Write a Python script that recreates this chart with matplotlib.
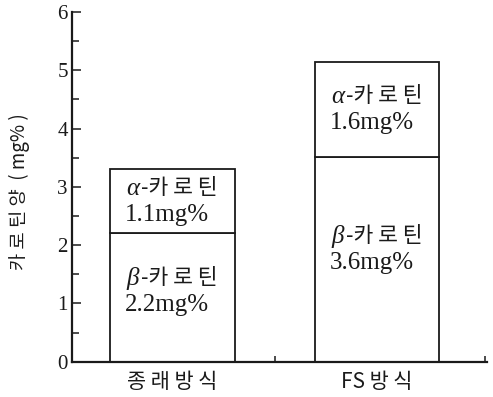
import matplotlib
matplotlib.use("Agg")
import matplotlib.pyplot as plt
from matplotlib.ticker import MultipleLocator, FixedLocator

# ---- data ----
categories = ["종 래 방 식", "FS 방 식"]
beta_values = [2.2, 3.52]      # drawn heights (mg%)
alpha_values = [1.1, 1.62]
beta_labels = ["2.2mg%", "3.6mg%"]
alpha_labels = ["1.1mg%", "1.6mg%"]
yticks = [0, 1, 2, 3, 4, 5, 6]
ylabel = "카 로 틴 양  ( mg% )"

KR = ["Noto Sans CJK KR", "DejaVu Sans"]
SERIF = ["Liberation Serif", "DejaVu Serif"]
INK = "#1a1a1a"

W, H = 493, 397
fig = plt.figure(figsize=(W / 100, H / 100), dpi=100)
ax = fig.add_axes([72 / W, (H - 361.7) / H, (486.5 - 72) / W, (361.7 - 12) / H])

x = [0, 1]
width = 0.61
lw = 1.3
ax.bar(x, beta_values, width=width, facecolor="white", edgecolor=INK, linewidth=lw)
ax.bar(x, alpha_values, width=width, bottom=beta_values, facecolor="white",
       edgecolor=INK, linewidth=lw)

ax.set_ylim(0, 6)
ax.set_xlim(-0.49, 1.535)

def label(xc, yc, greek, value):
    x0 = xc - width / 2 + 0.08
    ax.annotate(greek, xy=(x0, yc), xytext=(0, 9), textcoords="offset points",
                fontsize=18, family=SERIF, style="italic", va="center", ha="left",
                color=INK)
    ax.annotate("-카 로 틴", xy=(x0, yc), xytext=(10.5, 9.5), textcoords="offset points",
                fontsize=15.5, family=KR, va="center", ha="left", color=INK)
    ax.annotate(value, xy=(x0, yc), xytext=(-1, -10), textcoords="offset points",
                fontsize=18, family=SERIF, va="center", ha="left", color=INK)

for i in range(2):
    b = beta_values[i]
    a = alpha_values[i]
    label(x[i], b * 0.55, "β", beta_labels[i])
    label(x[i], b + a * 0.5, "α", alpha_labels[i])

# spines
for s in ["top", "right"]:
    ax.spines[s].set_visible(False)
for s in ["left", "bottom"]:
    ax.spines[s].set_linewidth(1.6)
    ax.spines[s].set_color(INK)

# y ticks
ax.yaxis.set_major_locator(FixedLocator(yticks))
ax.yaxis.set_minor_locator(MultipleLocator(0.5))
ax.tick_params(axis="y", which="major", direction="in", length=6.5, width=1.1,
               pad=3, labelsize=15, colors=INK)
ax.tick_params(axis="y", which="minor", direction="in", length=5.3, width=1.1,
               colors=INK)
for t in ax.get_yticklabels():
    t.set_family(SERIF)

# x ticks
ax.set_xticks(x)
ax.set_xticklabels(categories, family=KR, fontsize=15)
ax.tick_params(axis="x", which="major", length=0, pad=7, colors=INK)
ax.xaxis.set_minor_locator(FixedLocator([0.5, 1.53]))
ax.tick_params(axis="x", which="minor", direction="in", length=4, width=1.1,
               colors=INK)

fig.text(19 / W, 1 - 192 / H, ylabel, rotation=90, family=KR, fontsize=13.5,
         ha="center", va="center", color=INK)

fig.savefig("out.png", dpi=100)
